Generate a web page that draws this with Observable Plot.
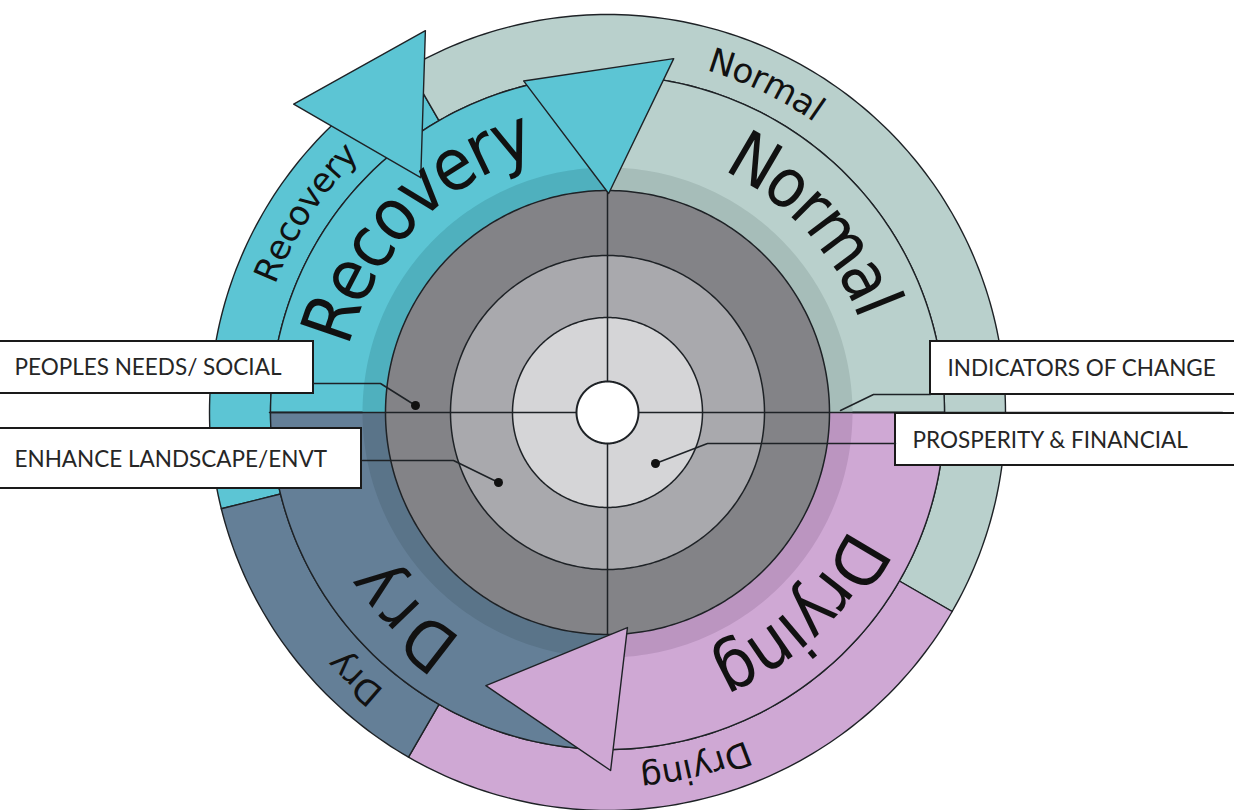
<!DOCTYPE html>
<html><head><meta charset="utf-8">
<script src="https://cdn.jsdelivr.net/npm/d3@7"></script>
<script src="https://cdn.jsdelivr.net/npm/@observablehq/plot@0.6"></script>
<style>body{margin:0;background:#fff} svg{display:block}</style>
</head><body><div id="chart"></div>
<script>
// ---- data ----
const phases = ["Recovery", "Normal", "Drying", "Dry"];
const phaseFill = ["#5cc5d4", "#b9d0cc", "#cfa8d4", "#647f97"];
const phaseShade = ["#4fb0be", "#a6bdb9", "#bb95c0", "#5a7489"];
// inner ring spans, degrees clockwise from 12 o'clock
const innerStart = [-90, 0, 90, 180];
const innerEnd = [0, 90, 180, 270];
// outer ring spans
const outerStart = [-104, -30, 120, 210];
const outerEnd = [-30, 120, 210, 256];
const levelFill = ["#838387", "#a9a9ad", "#d5d5d7"];
const boxLabels = ["PEOPLES NEEDS/ SOCIAL", "ENHANCE LANDSCAPE/ENVT", "INDICATORS OF CHANGE", "PROSPERITY & FINANCIAL"];

// ---- layout ----
const L = {cx: 607, cy: 412, hub: 31, levelR: [222, 157, 95], shadeR: 245, innerR: 337, outerR: 398};
const bigAngle = [-45.5, 47.8, 136.6, 225];
const bigSpacing = [0, 0, 0, 6];
const smallAngle = [-56.5, 25.8, 166, 223.5];
const arrows = [
  {fill: 0, pts: [[342, -14.2], [360, 10.6], [219, 0.3]]},
  {fill: 0, pts: [[440, -45.5], [423, -25.5], [300, -38.5]]},
  {fill: 2, pts: [[216, 174.7], [358, 179.5], [299, 204]]}
];
const boxes = [
  {x1: -5, x2: 313, y1: 341, y2: 393, tx: 14, ty: 367},
  {x1: -5, x2: 361, y1: 428, y2: 488, tx: 14, ty: 459},
  {x1: 930, x2: 1245, y1: 341, y2: 394, tx: 947, ty: 368},
  {x1: 895, x2: 1245, y1: 413, y2: 465, tx: 912, ty: 440}
];
const leaders = [
  [[313, 383], [380, 383], [415, 405]],
  [[362, 460], [453, 460], [498, 482]],
  [[840, 410], [873, 394], [930, 394]],
  [[655, 463], [707, 443], [895, 443]]
];
const dotsAt = [[415, 405], [498, 482], [655, 463]];

// ---- helpers ----
const rad = d => d * Math.PI / 180;
const P = (r, deg) => ({x: L.cx + r * Math.sin(rad(deg)), y: L.cy - r * Math.cos(rad(deg))});
function sector(r0, r1, a0, a1) {
  const pts = [];
  const n = Math.max(2, Math.ceil(Math.abs(a1 - a0)));
  for (let i = 0; i <= n; i++) pts.push(P(r1, a0 + (a1 - a0) * i / n));
  for (let i = n; i >= 0; i--) pts.push(P(r0, a0 + (a1 - a0) * i / n));
  return pts;
}
function disk(r) {
  const pts = [];
  for (let i = 0; i < 360; i++) pts.push(P(r, i));
  return pts;
}
const ctx = document.createElement("canvas").getContext("2d");
const measure = (s, font) => { ctx.font = font; return ctx.measureText(s).width; };
// use condensed DejaVu for big labels when installed
const condensed = measure("Recovery", "60px 'DejaVu Sans Condensed', monospace") !== measure("Recovery", "60px monospace");
const bigFamily = condensed ? "'DejaVu Sans Condensed', 'DejaVu Sans'" : "'DejaVu Sans'";
const bigSize = condensed ? [72, 68, 70, 68] : [66, 63, 64, 64];

function arcChars(str, r, center, size, family, spacing = 0) {
  ctx.font = `${size}px ${family}`;
  const chars = [...str];
  const w = chars.map(c => ctx.measureText(c).width);
  const total = d3.sum(w) + spacing * (chars.length - 1);
  let start = rad(center) - total / (2 * r), off = 0;
  return chars.map((c, i) => {
    const a = start + (off + w[i] / 2) / r;
    off += w[i] + spacing;
    const deg = a * 180 / Math.PI;
    return {...P(r, deg), ch: c, rot: deg};
  });
}
const stroke = "#1e2226";
const poly = (pts, fill, sw = 1.4, st = stroke) =>
  Plot.line(pts, {x: "x", y: "y", fill, stroke: st, strokeWidth: sw, curve: "linear-closed", strokeLinejoin: "round"});

const marks = [];
phases.forEach((p, i) => marks.push(poly(sector(L.innerR, L.outerR, outerStart[i], outerEnd[i]), phaseFill[i])));
phases.forEach((p, i) => marks.push(poly(sector(L.levelR[0], L.innerR, innerStart[i], innerEnd[i]), phaseFill[i])));
phases.forEach((p, i) => marks.push(poly(sector(L.levelR[0], L.shadeR, innerStart[i], innerEnd[i]), phaseShade[i], 0, "none")));
L.levelR.forEach((r, i) => marks.push(poly(disk(r), levelFill[i], 1.5)));
marks.push(Plot.line([P(L.levelR[0], 0), P(L.levelR[0], 180)], {x: "x", y: "y", stroke, strokeWidth: 1.5}));
marks.push(Plot.line([P(L.innerR + 1, 270), P(615, 90)], {x: "x", y: "y", stroke, strokeWidth: 1.5}));
marks.push(poly(disk(L.hub), "#ffffff", 2));
arrows.forEach(a => marks.push(poly(a.pts.map(([r, d]) => P(r, d)), phaseFill[a.fill], 1.4)));
const fsBox = 22.5;
boxes.forEach((b, i) => {
  marks.push(Plot.rect([b], {x1: "x1", x2: "x2", y1: "y1", y2: "y2", fill: "white", stroke: "#1a1a1a", strokeWidth: 2}));
  marks.push(Plot.text([b], {x: "tx", y: "ty", text: () => boxLabels[i], textAnchor: "start", fontSize: fsBox, fontFamily: "Lato", fill: "#262626"}));
});
leaders.forEach(l => marks.push(Plot.line(l.map(([x, y]) => ({x, y})), {x: "x", y: "y", stroke, strokeWidth: 1.5})));
marks.push(Plot.dot(dotsAt.map(([x, y]) => ({x, y})), {x: "x", y: "y", r: 4.5, fill: "#111", stroke: "none"}));
phases.forEach((p, i) => {
  marks.push(Plot.text(arcChars(p, 290, bigAngle[i], bigSize[i], bigFamily, bigSpacing[i]),
    {x: "x", y: "y", text: "ch", rotate: "rot", fontSize: bigSize[i], fontFamily: bigFamily, fill: "#111", textAnchor: "middle", lineAnchor: "middle"}));
  marks.push(Plot.text(arcChars(p, 367, smallAngle[i], 34, "'DejaVu Sans'"),
    {x: "x", y: "y", text: "ch", rotate: "rot", fontSize: 34, fontFamily: "'DejaVu Sans'", fill: "#111", textAnchor: "middle", lineAnchor: "middle"}));
});

const chart = Plot.plot({
  width: 1234, height: 810, margin: 0,
  x: {domain: [0, 1234], range: [0, 1234], axis: null},
  y: {domain: [0, 810], range: [0, 810], axis: null},
  style: {background: "white", overflow: "hidden"},
  marks
});
document.getElementById("chart").append(chart);
</script>
</body></html>
